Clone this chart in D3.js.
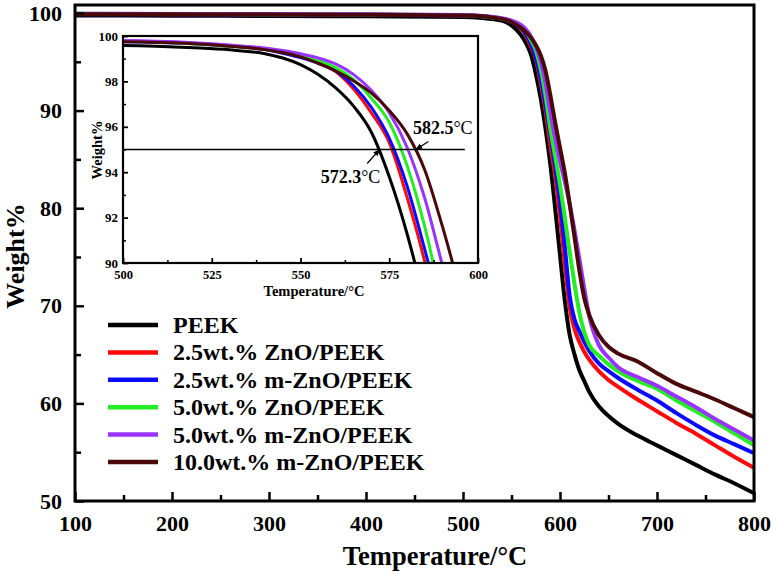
<!DOCTYPE html>
<html><head><meta charset="utf-8">
<script src="https://cdn.jsdelivr.net/npm/d3@7"></script>
<style>body{margin:0;background:#fff}svg{display:block}</style>
</head><body><svg id="c" width="774" height="574"></svg>
<script>
// ---- data ----
const temps = [100,200,300,400,500,520,530,540,545,550,555,560,565,570,575,580,585,590,595,600,605,610,615,620,625,630,640,650,660,680,700,720,740,760,780,800];
const seriesNames = ["PEEK","2.5wt.% ZnO/PEEK","2.5wt.% m-ZnO/PEEK","5.0wt.% ZnO/PEEK","5.0wt.% m-ZnO/PEEK","10.0wt.% m-ZnO/PEEK"];
const wPEEK   = [99.75,99.72,99.70,99.66,99.58,99.48,99.39,99.22,99.03,98.74,98.3,97.7,96.9,95.75,93.8,91.3,88.2,84.5,80.0,75.2,70.5,67.0,65.0,63.4,62.3,61.2,59.7,58.7,57.9,56.7,55.7,54.7,53.7,52.7,51.8,50.8];
const wZnO25  = [99.90,99.88,99.86,99.83,99.78,99.68,99.58,99.43,99.25,99.08,98.84,98.42,97.65,96.6,95.3,92.9,90.05,86.5,83.3,79.2,74.2,69.8,67.6,66.3,65.3,64.5,63.3,62.4,61.7,60.4,59.2,58.0,56.9,55.7,54.5,53.4];
const wMZnO25 = [99.88,99.86,99.84,99.81,99.75,99.66,99.56,99.40,99.24,99.05,98.8,98.45,97.8,96.85,95.5,93.4,90.6,87.6,84.3,80.7,76.0,71.0,68.6,67.4,66.3,65.4,64.1,63.3,62.6,61.4,60.3,59.0,57.8,56.7,55.8,54.9];
const wZnO50  = [99.92,99.90,99.88,99.85,99.77,99.66,99.55,99.42,99.29,99.12,98.9,98.6,98.08,97.25,96.2,94.3,91.6,88.2,85.3,82.4,79.0,75.5,72.2,69.3,67.3,66.0,64.9,64.0,63.3,62.3,61.5,60.3,59.2,58.1,56.9,55.7];
const wMZnO50 = [99.93,99.91,99.89,99.86,99.80,99.70,99.60,99.47,99.36,99.22,99.03,98.76,98.3,97.6,96.62,95.1,92.85,89.9,87.2,84.8,82.7,80.4,77.7,74.8,71.8,69.0,66.0,64.7,63.7,62.7,61.8,60.7,59.6,58.4,57.3,56.2];
const wMZnO100= [99.88,99.86,99.84,99.81,99.75,99.66,99.55,99.40,99.27,99.08,98.8,98.45,98.02,97.48,96.72,95.7,94.1,91.6,88.8,86.2,83.6,80.4,77.0,73.6,70.8,69.1,67.0,65.8,65.1,64.3,63.1,62.0,61.2,60.4,59.5,58.6];
const seriesValues = [wPEEK,wZnO25,wMZnO25,wZnO50,wMZnO50,wMZnO100];
const seriesColors = ["#000000","#ff0a0a","#0a0aff","#22ee22","#9933ff","#4a0808"];

const mainXTicks = [100,200,300,400,500,600,700,800];
const mainXMinor = [150,250,350,450,550,650,750];
const mainYTicks = [50,60,70,80,90,100];
const mainYMinor = [55,65,75,85,95];
const insetXTicks = [500,525,550,575,600];
const insetXMinor = [512.5,537.5,562.5,587.5];
const insetYTicks = [90,92,94,96,98,100];
const insetYMinor = [91,93,95,97,99];
const refLevel = 95, refLineEnd = 596.3;
const onsets = [{t:572.3, label:"572.3", dx:-59, dy:33, ax:-12.5, ay:14},
                {t:582.5, label:"582.5", dx:-3, dy:-16, ax:12.5, ay:-8}];

// ---- drawing ----
const svg = d3.select("#c");
const FONT = "'Liberation Serif','Times New Roman',serif";
const x = d3.scaleLinear([100,800],[75,754]);
const y = d3.scaleLinear([50,100],[501,13]);
const series = seriesNames.map((n,i)=>({name:n,color:seriesColors[i],pts:temps.map((t,j)=>[t,seriesValues[i][j]])}));

const defs = svg.append("defs");
defs.append("clipPath").attr("id","mclip").append("rect").attr("x",75).attr("y",5).attr("width",679).attr("height",496);
defs.append("clipPath").attr("id","iclip").append("rect").attr("x",123).attr("y",36).attr("width",355).attr("height",227);
defs.append("marker").attr("id","arr").attr("viewBox","0 0 10 10").attr("refX",9).attr("refY",5)
  .attr("markerWidth",6).attr("markerHeight",6).attr("orient","auto")
  .append("path").attr("d","M0,1 L10,5 L0,9 z").attr("fill","#000");

// main curves
const line = d3.line().x(d=>x(d[0])).y(d=>y(d[1])).curve(d3.curveMonotoneX);
svg.append("g").attr("clip-path","url(#mclip)").selectAll("path").data(series).join("path")
  .attr("d",d=>line(d.pts)).attr("fill","none").attr("stroke",d=>d.color).attr("stroke-width",4).attr("stroke-linejoin","round");

// main frame
svg.append("rect").attr("x",75).attr("y",5).attr("width",679).attr("height",496)
  .attr("fill","none").attr("stroke","#000").attr("stroke-width",3);

function styleAxis(g, size){
  g.select(".domain").remove();
  g.selectAll(".tick line").attr("stroke","#000").attr("stroke-width",2.5);
  g.selectAll("text").attr("font-family",FONT).attr("font-weight","bold").attr("font-size",size).attr("fill","#000");
}
const gx = svg.append("g").attr("transform","translate(0,501)")
  .call(d3.axisBottom(x).tickValues(mainXTicks).tickSize(-9).tickPadding(14).tickFormat(d3.format("d")));
styleAxis(gx,22);
const gxm = svg.append("g").attr("transform","translate(0,501)")
  .call(d3.axisBottom(x).tickValues(mainXMinor).tickSize(-6).tickFormat(""));
styleAxis(gxm,1);
const gy = svg.append("g").attr("transform","translate(75,0)")
  .call(d3.axisLeft(y).tickValues(mainYTicks).tickSize(-9).tickPadding(13).tickFormat(d3.format("d")));
styleAxis(gy,22);
const gym = svg.append("g").attr("transform","translate(75,0)")
  .call(d3.axisLeft(y).tickValues(mainYMinor).tickSize(-6).tickFormat(""));
styleAxis(gym,1);

svg.append("text").attr("x",435).attr("y",565).attr("text-anchor","middle")
  .attr("font-family",FONT).attr("font-weight","bold").attr("font-size",26.5).text("Temperature/°C");
svg.append("text").attr("transform","translate(24,256) rotate(-90)").attr("text-anchor","middle")
  .attr("font-family",FONT).attr("font-weight","bold").attr("font-size",26).text("Weight%");

// legend
const lg = svg.append("g").selectAll("g").data(series).join("g")
  .attr("transform",(d,i)=>`translate(0,${325+i*27.4})`);
lg.append("line").attr("x1",108).attr("x2",158).attr("stroke",d=>d.color).attr("stroke-width",4.5);
lg.append("text").attr("x",173).attr("y",8).attr("font-family",FONT).attr("font-weight","bold")
  .attr("font-size",24).text(d=>d.name);

// ---- inset ----
const xi = d3.scaleLinear([500,600],[123,478]);
const yi = d3.scaleLinear([90,100],[263,36]);
svg.append("rect").attr("x",123).attr("y",36).attr("width",355).attr("height",227).attr("fill","#fff");
const linei = d3.line().x(d=>xi(d[0])).y(d=>yi(d[1])).curve(d3.curveMonotoneX);
svg.append("g").attr("clip-path","url(#iclip)").selectAll("path").data(series).join("path")
  .attr("d",d=>linei(d.pts)).attr("fill","none").attr("stroke",d=>d.color).attr("stroke-width",3);
svg.append("line").attr("x1",xi(500)).attr("x2",xi(refLineEnd)).attr("y1",yi(refLevel)).attr("y2",yi(refLevel))
  .attr("stroke","#000").attr("stroke-width",1.5);
svg.append("rect").attr("x",123).attr("y",36).attr("width",355).attr("height",227)
  .attr("fill","none").attr("stroke","#000").attr("stroke-width",2.2);

const gxi = svg.append("g").attr("transform","translate(0,263)")
  .call(d3.axisBottom(xi).tickValues(insetXTicks).tickSize(-5).tickPadding(7).tickFormat(d3.format("d")));
styleAxis(gxi,12.5); gxi.selectAll(".tick line").attr("stroke-width",1.8);
const gxim = svg.append("g").attr("transform","translate(0,263)")
  .call(d3.axisBottom(xi).tickValues(insetXMinor).tickSize(-3).tickFormat(""));
styleAxis(gxim,1); gxim.selectAll(".tick line").attr("stroke-width",1.5);
const gyi = svg.append("g").attr("transform","translate(123,0)")
  .call(d3.axisLeft(yi).tickValues(insetYTicks).tickSize(-5).tickPadding(5).tickFormat(d3.format("d")));
styleAxis(gyi,13); gyi.selectAll(".tick line").attr("stroke-width",1.8);
const gyim = svg.append("g").attr("transform","translate(123,0)")
  .call(d3.axisLeft(yi).tickValues(insetYMinor).tickSize(-3).tickFormat(""));
styleAxis(gyim,1); gyim.selectAll(".tick line").attr("stroke-width",1.5);

svg.append("text").attr("x",314).attr("y",295.5).attr("text-anchor","middle")
  .attr("font-family",FONT).attr("font-weight","bold").attr("font-size",14.5).text("Temperature/°C");
svg.append("text").attr("transform","translate(102,150) rotate(-90)").attr("text-anchor","middle")
  .attr("font-family",FONT).attr("font-weight","bold").attr("font-size",14.5).text("Weight%");

// onset annotations
onsets.forEach(o=>{
  const px = xi(o.t), py = yi(refLevel);
  svg.append("line").attr("x1",px+o.ax).attr("y1",py+o.ay).attr("x2",px).attr("y2",py)
    .attr("stroke","#000").attr("stroke-width",1.2).attr("marker-end","url(#arr)");
  const t = svg.append("text").attr("x",px+o.dx).attr("y",py+o.dy)
    .attr("font-family",FONT).attr("font-size",18).attr("fill","#000");
  t.append("tspan").attr("font-weight","bold").text(o.label);
  t.append("tspan").text("°C");
});
</script></body></html>
